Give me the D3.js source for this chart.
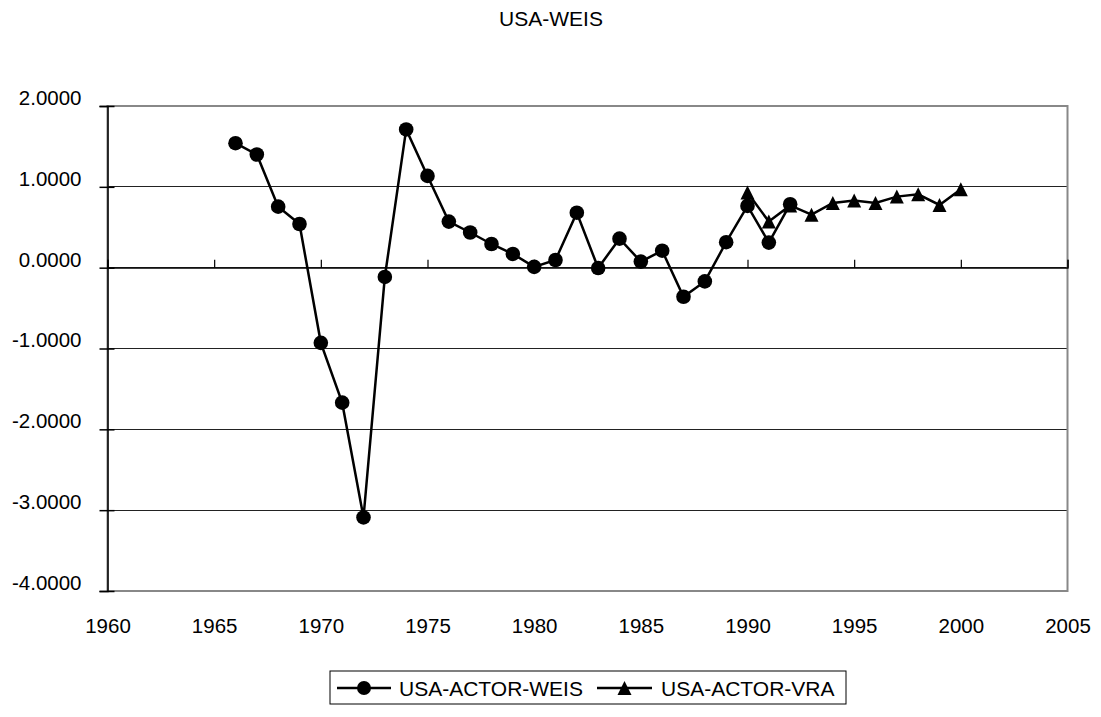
<!DOCTYPE html>
<html>
<head>
<meta charset="utf-8">
<script src="https://cdn.jsdelivr.net/npm/d3@7"></script>
<style>
  html, body { margin: 0; padding: 0; background: #fff; }
  svg { display: block; font-family: "Liberation Sans", Arial, sans-serif; }
</style>
</head>
<body>
<svg id="chart" width="1101" height="717"></svg>
<script>
const title = "USA-WEIS";
const weisYears = [1966,1967,1968,1969,1970,1971,1972,1973,1974,1975,1976,1977,1978,1979,1980,1981,1982,1983,1984,1985,1986,1987,1988,1989,1990,1991,1992];
const weisValues = [1.54,1.40,0.755,0.54,-0.93,-1.67,-3.09,-0.115,1.71,1.135,0.57,0.435,0.293,0.17,0.01,0.095,0.68,-0.005,0.359,0.075,0.21,-0.36,-0.17,0.315,0.764,0.31,0.785];
const vraYears = [1990,1991,1992,1993,1994,1995,1996,1997,1998,1999,2000];
const vraValues = [0.93,0.57,0.77,0.656,0.80,0.83,0.80,0.879,0.908,0.776,0.97];
const yTicks = [-4,-3,-2,-1,0,1,2];
const xTicks = [1960,1965,1970,1975,1980,1985,1990,1995,2000,2005];
const seriesNames = ["USA-ACTOR-WEIS","USA-ACTOR-VRA"];

const svg = d3.select("#chart");
const x = d3.scaleLinear().domain([1960,2005]).range([107.5,1067.5]);
const y = d3.scaleLinear().domain([-4,2]).range([591,106]);

// title
svg.append("text").attr("x",551).attr("y",26).attr("text-anchor","middle")
  .attr("font-size",21).attr("fill","#000").text(title);

// gridlines
svg.append("g").selectAll("line").data(yTicks.filter(d => d > -4 && d < 2)).join("line")
  .attr("x1",x(1960)).attr("x2",x(2005)).attr("y1",d=>y(d)).attr("y2",d=>y(d))
  .attr("stroke","#222").attr("stroke-width",1).attr("shape-rendering","crispEdges");

// plot border
svg.append("rect").attr("x",x(1960)).attr("y",y(2)).attr("width",x(2005)-x(1960)).attr("height",y(-4)-y(2))
  .attr("fill","none").attr("stroke","#888").attr("stroke-width",2);

// y axis
const yAxis = svg.append("g").attr("transform",`translate(${x(1960)},0)`)
  .call(d3.axisLeft(y).tickValues(yTicks).tickFormat(d => d.toFixed(4)).tickSize(8).tickPadding(18));
yAxis.select(".domain").attr("stroke","#000").attr("stroke-width",1.5);
yAxis.selectAll(".tick line").attr("x1",7).attr("x2",-8).attr("stroke","#000").attr("stroke-width",1.5);
yAxis.selectAll(".tick text").attr("font-size",20.5).attr("font-family","Liberation Sans, Arial, sans-serif")
  .attr("fill","#000").attr("x",-26).attr("dy","-0.08em");

// x axis at y=0 (ticks upward)
const xAxis = svg.append("g").attr("transform",`translate(0,${y(0)})`)
  .call(d3.axisBottom(x).tickValues(xTicks).tickSize(-8).tickFormat(""));
xAxis.select(".domain").attr("stroke","#000").attr("stroke-width",1.2);
xAxis.selectAll(".tick line").attr("stroke","#000").attr("stroke-width",1.2);

// x labels at bottom
const xLab = svg.append("g").attr("transform",`translate(0,${y(-4)})`)
  .call(d3.axisBottom(x).tickValues(xTicks).tickFormat(d3.format("d")).tickSize(0));
xLab.select(".domain").remove();
xLab.selectAll(".tick text").attr("font-size",20.5).attr("font-family","Liberation Sans, Arial, sans-serif")
  .attr("fill","#000").attr("y",42).attr("dy",0);

// lines
const line = d3.line().x(d=>x(d[0])).y(d=>y(d[1]));
const weis = weisYears.map((d,i)=>[d,weisValues[i]]);
const vra = vraYears.map((d,i)=>[d,vraValues[i]]);

const triPath = (s) => `M0,${-s/2}L${s/2},${s/2}L${-s/2},${s/2}Z`;

svg.append("path").datum(vra).attr("d",line).attr("fill","none").attr("stroke","#000").attr("stroke-width",2.5);
svg.append("g").selectAll("path").data(vra).join("path")
  .attr("transform",d=>`translate(${x(d[0])},${y(d[1])})`).attr("d",triPath(14)).attr("fill","#000");

svg.append("path").datum(weis).attr("d",line).attr("fill","none").attr("stroke","#000").attr("stroke-width",2.5);
svg.append("g").selectAll("circle").data(weis).join("circle")
  .attr("cx",d=>x(d[0])).attr("cy",d=>y(d[1])).attr("r",7.3).attr("fill","#000");

// legend
const lg = svg.append("g");
lg.append("rect").attr("x",330).attr("y",671).attr("width",516).attr("height",33)
  .attr("fill","#fff").attr("stroke","#000").attr("stroke-width",1);
const legendItems = [
  {name: seriesNames[0], x0: 337, x1: 391, text: 399, marker: "circle"},
  {name: seriesNames[1], x0: 597, x1: 652, text: 661, marker: "tri"}
];
legendItems.forEach(it => {
  const cy = 688;
  lg.append("line").attr("x1",it.x0).attr("x2",it.x1).attr("y1",cy).attr("y2",cy).attr("stroke","#000").attr("stroke-width",2.5);
  const mx = (it.x0+it.x1)/2;
  if (it.marker === "circle") lg.append("circle").attr("cx",mx).attr("cy",cy).attr("r",7).attr("fill","#000");
  else lg.append("path").attr("transform",`translate(${mx},${cy})`).attr("d",triPath(14)).attr("fill","#000");
  lg.append("text").attr("x",it.text).attr("y",cy+7.5).attr("font-size",21).attr("fill","#000").text(it.name);
});
</script>
</body>
</html>
